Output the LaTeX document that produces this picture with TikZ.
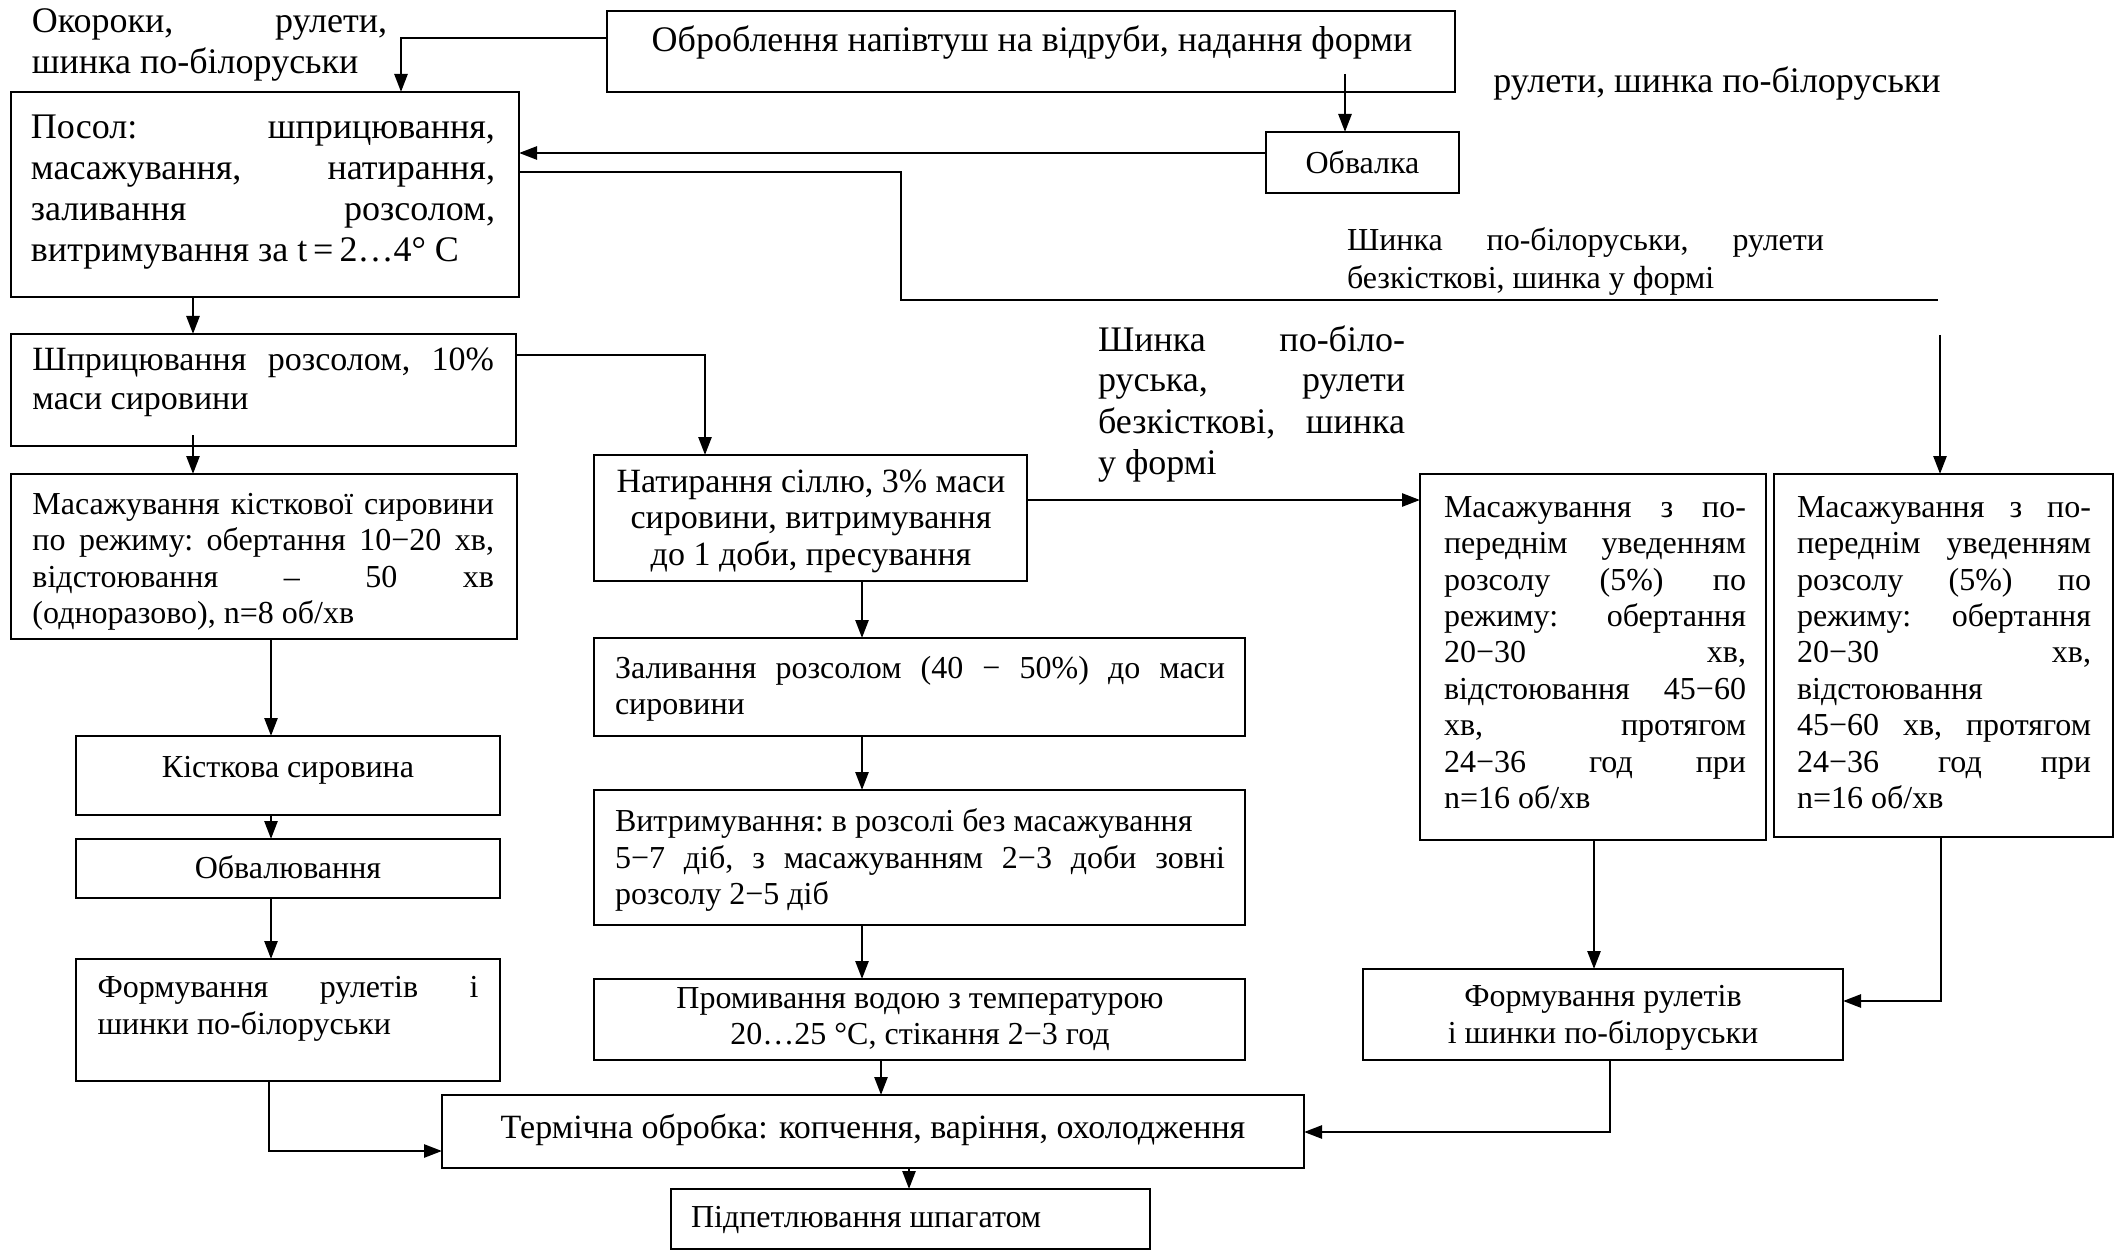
\documentclass[tikz,border=0pt]{standalone}
\usepackage{fontspec}
\setmainfont{Liberation Serif}
\usetikzlibrary{arrows.meta}
\hyphenpenalty=10000
\exhyphenpenalty=10000

% box given by its corners (x1,y1) and (x2,y2)
\newcommand\flowbox[5]{%
  \node[boxst, minimum width={(#4-#2)*0.5pt}, minimum height={(#5-#3)*0.5pt}]
    (#1) at ({(#2+#4)/2},{(#3+#5)/2}) {};}

\begin{document}
\begin{tikzpicture}[x=0.5pt,y=-0.5pt,
  every node/.style={inner sep=0pt, outer sep=0pt},
  boxst/.style={draw, line width=1.3pt, rectangle},
  wire/.style={line width=1.3pt},
  arr/.style={wire, -{Triangle[length=9pt,width=6.5pt]}},
  fsA/.style={font=\fontsize{18}{20.5}\selectfont},
  fsB/.style={font=\fontsize{16}{18.2}\selectfont},
  fsC/.style={font=\fontsize{17}{19.5}\selectfont},
  jtext/.style={align=justify},
  ctext/.style={align=center},
]
\fill[white] (0,0) rectangle (2118,1251);
\useasboundingbox (0,0) rectangle (2118,1251);

% boxes
\flowbox{obr}{607}{11}{1455}{92}
\flowbox{obv}{1266}{132}{1459}{193}
\flowbox{posol}{11}{92}{519}{297}
\flowbox{shpr}{11}{334}{516}{446}
\flowbox{mk}{11}{474}{517}{639}
\flowbox{kist}{76}{736}{500}{815}
\flowbox{obvl}{76}{839}{500}{898}
\flowbox{forml}{76}{959}{500}{1081}
\flowbox{nat}{594}{455}{1027}{581}
\flowbox{zal}{594}{638}{1245}{736}
\flowbox{vytr}{594}{790}{1245}{925}
\flowbox{prom}{594}{979}{1245}{1060}
\flowbox{term}{442}{1095}{1304}{1168}
\flowbox{pidp}{671}{1189}{1150}{1249}
\flowbox{masl}{1420}{474}{1766}{840}
\flowbox{masr}{1774}{474}{2113}{837}
\flowbox{formr}{1363}{969}{1843}{1060}

% texts
\node[fsA, jtext, text width=177.5pt] (lab1) at (209.5,45)
  {Окороки,~рулети,\linebreak шинка~по-білоруськи};
\node[fsA] (obr-t) at (1032,43) {Оброблення напівтуш на відруби, надання форми};
\node[fsA] (lab2) at (1717,84) {рулети, шинка по-білоруськи};
\node[fsB] (obv-t) at (1362.5,162) {Обвалка};
\node[fsA, jtext, text width=232pt] (posol-t) at (263,192)
  {Посол:~шприцювання,\linebreak масажування,~натирання,\linebreak
   заливання~розсолом,\linebreak витримування~за~t\,=\,2…4°~С};
\node[fsC, jtext, text width=230.75pt] (shpr-t) at (263.25,382)
  {Шприцювання~розсолом,~10\%\linebreak маси~сировини};
\node[fsB, jtext, text width=230.75pt] (mk-t) at (263.25,562)
  {Масажування~кісткової~сировини\linebreak по~режиму:~обертання~10−20~хв,\linebreak
   відстоювання~–~50~хв\linebreak (одноразово),~n=8~об/хв};
\node[fsB] (kist-t) at (288,770) {Кісткова сировина};
\node[fsB] (obvl-t) at (288,867) {Обвалювання};
\node[fsB, jtext, text width=190.5pt] (forml-t) at (288,1009)
  {Формування~рулетів~і\linebreak шинки~по-білоруськи};
\node[font=\fontsize{17}{18.3}\selectfont, ctext] (nat-t) at (811,521)
  {Натирання сіллю, 3\% маси\\ сировини, витримування\\ до 1 доби, пресування};
\node[fsA, jtext, text width=153.5pt] (lab3) at (1251.5,403.5)
  {Шинка~по-біло-\linebreak руська,~рулети\linebreak безкісткові,~шинка\linebreak у~формі};
\node[font=\fontsize{16}{19}\selectfont, jtext, text width=238.5pt] (lab4) at (1585.5,261.5)
  {Шинка~по-білоруськи,~рулети\linebreak безкісткові,~шинка~у~формі};
\node[fsB, jtext, text width=305pt] (zal-t) at (920,689)
  {Заливання~розсолом~(40~−~50\%)~до~маси\linebreak сировини};
\node[fsB, jtext, text width=305pt] (vytr-t) at (920,860)
  {Витримування:~в~розсолі~без~масажування\\ 5−7~діб,~з~масажуванням~2−3~доби~зовні\linebreak
   розсолу~2−5~діб};
\node[fsB, ctext] (prom-t) at (920,1019)
  {Промивання водою з температурою\\ 20…25 °С, стікання 2−3 год};
\node[fsC] (term-t) at (873,1130) {Термічна обробка: копчення, варіння, охолодження};
\node[fsB, anchor=west] (pidp-t) at (691,1220) {Підпетлювання шпагатом};
\node[fsB, jtext, text width=151pt] (masl-t) at (1595,652.5)
  {Масажування~з~по-\linebreak переднім~уведенням\linebreak розсолу~(5\%)~по\linebreak
   режиму:~обертання\linebreak 20−30~хв,\linebreak відстоювання~45−60\linebreak
   хв,~протягом\linebreak 24−36~год~при\linebreak n=16~об/хв};
\node[fsB, jtext, text width=147pt] (masr-t) at (1944,652.5)
  {Масажування~з~по-\linebreak переднім~уведенням\linebreak розсолу~(5\%)~по\linebreak
   режиму:~обертання\linebreak 20−30~хв,\linebreak відстоювання\\
   45−60~хв,~протягом\linebreak 24−36~год~при\linebreak n=16~об/хв};
\node[fsB, ctext] (formr-t) at (1603,1018)
  {Формування рулетів\\ і шинки по-білоруськи};

% connectors
\coordinate (c1) at (401,38);
\draw[arr] (obr.west |- c1) -- (c1) -- (c1 |- posol.north);
\coordinate (c2) at (1345,74);
\draw[arr] (c2) -- (c2 |- obv.north);
\coordinate (c3) at (0,153);
\draw[arr] (obv.west |- c3) -- (posol.east |- c3);
\coordinate (c4a) at (901,172);
\coordinate (c4b) at (901,300);
\coordinate (c4c) at (1938,300);
\draw[wire] (posol.east |- c4a) -- (c4a) -- (c4b) -- (c4c);
\coordinate (c5) at (1940,335);
\draw[arr] (c5) -- (c5 |- masr.north);
\coordinate (c6) at (193,0);
\draw[arr] (posol.south -| c6) -- (shpr.north -| c6);
\coordinate (c7) at (705,355);
\draw[arr] (shpr.east |- c7) -- (c7) -- (c7 |- nat.north);
\coordinate (c8) at (193,435);
\draw[arr] (c8) -- (c8 |- mk.north);
\coordinate (c9) at (271,0);
\draw[arr] (mk.south -| c9) -- (kist.north -| c9);
\draw[arr] (kist.south -| c9) -- (obvl.north -| c9);
\draw[arr] (obvl.south -| c9) -- (forml.north -| c9);
\coordinate (c10) at (269,1151);
\draw[arr] (forml.south -| c10) -- (c10) -- (term.west |- c10);
\coordinate (c11) at (862,0);
\draw[arr] (nat.south -| c11) -- (zal.north -| c11);
\draw[arr] (zal.south -| c11) -- (vytr.north -| c11);
\draw[arr] (vytr.south -| c11) -- (prom.north -| c11);
\coordinate (c12) at (881,0);
\draw[arr] (prom.south -| c12) -- (term.north -| c12);
\coordinate (c13) at (909,0);
\draw[arr] (term.south -| c13) -- (pidp.north -| c13);
\coordinate (c14) at (0,500);
\draw[arr] (nat.east |- c14) -- (masl.west |- c14);
\coordinate (c15) at (1594,0);
\draw[arr] (masl.south -| c15) -- (formr.north -| c15);
\coordinate (c16) at (1941,1001);
\draw[arr] (masr.south -| c16) -- (c16) -- (formr.east |- c16);
\coordinate (c17) at (1610,1132);
\draw[arr] (formr.south -| c17) -- (c17) -- (term.east |- c17);
\end{tikzpicture}
\end{document}
